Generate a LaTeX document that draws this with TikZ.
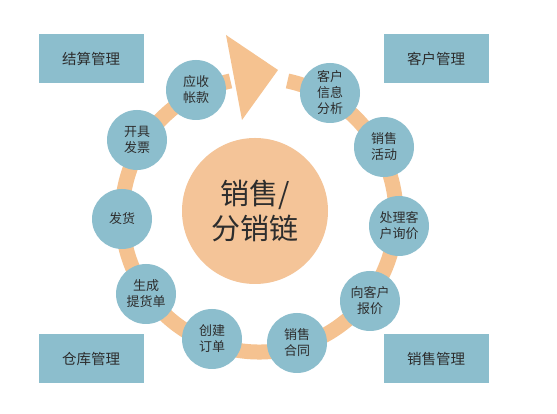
\documentclass[tikz,border=0pt]{standalone}
\usepackage{fontspec}
\setmainfont{Noto Sans CJK SC}
\usepackage{tikz}
\definecolor{stepblue}{RGB}{140,190,205}
\definecolor{bandorange}{RGB}{245,194,144}
\definecolor{hubpeach}{RGB}{244,196,152}
\definecolor{inkgray}{RGB}{45,45,45}
\tikzstyle{mgmt}=[fill=stepblue, text=inkgray, minimum width=105pt,
    minimum height=49pt, inner sep=0pt, font=\fontsize{14.5}{17}\selectfont]
\tikzstyle{stage}=[circle, fill=stepblue, text=inkgray, minimum size=60pt,
    inner sep=0pt, align=center, font=\fontsize{13}{16}\selectfont]
\tikzstyle{hub}=[circle, fill=hubpeach, text=inkgray, minimum size=146pt,
    inner sep=0pt, align=center, font=\fontsize{29}{35}\selectfont]

\begin{document}
\begin{tikzpicture}[x=1pt,y=1pt]
  \useasboundingbox[fill=white] (0,0) rectangle (557,414);
  \coordinate (ringc) at (259,199);

  % band round the ring, with the arrow at the top
  \draw[bandorange, line width=15pt] (ringc) ++(78:137)
      arc[start angle=78, end angle=-258, radius=137];
  \fill[bandorange] (226,379) -- (278,344) -- (242,294) -- cycle;

  \node at (91,355) (settle)[mgmt] {结算管理};
  \node at (436,355) (client)[mgmt] {客户管理};
  \node at (91,55) (store)[mgmt] {仓库管理};
  \node at (436,55) (sales)[mgmt] {销售管理};

  \node at (255,203) (chain)[hub] {销售/\\分销链};

  \node at (330,321) (info)[stage] {客户\\信息\\分析};
  \node at (384,267) (promo)[stage] {销售\\活动};
  \node at (399,188) (inquiry)[stage] {处理客\\户询价};
  \node at (370,113) (quote)[stage] {向客户\\报价};
  \node at (297,71) (contract)[stage] {销售\\合同};
  \node at (212,75) (order)[stage] {创建\\订单};
  \node at (146,120) (pick)[stage] {生成\\提货单};
  \node at (122,195) (ship)[stage] {发货};
  \node at (137,274) (invoice)[stage] {开具\\发票};
  \node at (196,324) (receive)[stage] {应收\\帐款};
\end{tikzpicture}
\end{document}
